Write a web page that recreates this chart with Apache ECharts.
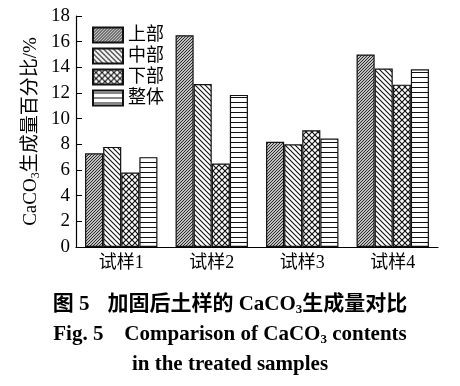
<!DOCTYPE html>
<html><head><meta charset="utf-8">
<script src="https://cdn.jsdelivr.net/npm/echarts@6/dist/echarts.min.js"></script>
<style>html,body{margin:0;padding:0;background:#fff}#c{width:460px;height:386px}</style>
</head><body><div id="c"></div>
<script>
const categories = ['试样1', '试样2', '试样3', '试样4'];
const seriesNames = ['上部', '中部', '下部', '整体'];
const upper = [7.3, 16.5, 8.2, 15.0];
const middle = [7.8, 12.7, 8.0, 13.9];
const lower = [5.8, 6.5, 9.1, 12.65];
const whole = [7.0, 11.85, 8.45, 13.85];
const yTicks = [0, 2, 4, 6, 8, 10, 12, 14, 16, 18];

const FONT = '"Liberation Serif", "Times New Roman", "Noto Sans CJK SC", serif';

function makePattern(type) {
  const c = document.createElement('canvas');
  let s;
  const ctx = c.getContext('2d');
  if (type === 'fwd') {
    s = 3; c.width = s; c.height = s;
    ctx.fillStyle = '#fff'; ctx.fillRect(0, 0, s, s);
    ctx.strokeStyle = '#222'; ctx.lineWidth = 1.1;
    ctx.beginPath();
    ctx.moveTo(-1, s + 1); ctx.lineTo(s + 1, -1);
    ctx.moveTo(-1, 1); ctx.lineTo(1, -1);
    ctx.moveTo(s - 1, s + 1); ctx.lineTo(s + 1, s - 1);
    ctx.stroke();
  } else if (type === 'back') {
    s = 5; c.width = s; c.height = s;
    ctx.fillStyle = '#fff'; ctx.fillRect(0, 0, s, s);
    ctx.strokeStyle = '#111'; ctx.lineWidth = 1.1;
    ctx.beginPath();
    ctx.moveTo(-1, -1); ctx.lineTo(s + 1, s + 1);
    ctx.moveTo(s - 1, -1); ctx.lineTo(s + 1, 1);
    ctx.moveTo(-1, s - 1); ctx.lineTo(1, s + 1);
    ctx.stroke();
  } else if (type === 'cross') {
    s = 6; c.width = s; c.height = s;
    ctx.fillStyle = '#fff'; ctx.fillRect(0, 0, s, s);
    ctx.strokeStyle = '#111'; ctx.lineWidth = 1.2;
    ctx.beginPath();
    ctx.moveTo(-1, -1); ctx.lineTo(s + 1, s + 1);
    ctx.moveTo(-1, s + 1); ctx.lineTo(s + 1, -1);
    ctx.stroke();
  } else {
    s = 5; c.width = s; c.height = s;
    ctx.fillStyle = '#fff'; ctx.fillRect(0, 0, s, s);
    ctx.fillStyle = '#111'; ctx.fillRect(0, 2, s, 1);
  }
  return { image: c, repeat: 'repeat' };
}

const patterns = [makePattern('fwd'), makePattern('back'), makePattern('cross'), makePattern('horiz')];
const dataArrays = [upper, middle, lower, whole];

const chart = echarts.init(document.getElementById('c'), null, { renderer: 'canvas' });
chart.setOption({
  backgroundColor: '#fff',
  animation: false,
  title: [
    {
      text: '{b|图 5}　{b|加固后土样的 CaCO}{s|3}{b|生成量对比}',
      left: 'center', top: 289,
      textStyle: { rich: {
        b: { fontFamily: FONT, fontWeight: 'bold', fontSize: 21, color: '#000' },
        s: { fontFamily: FONT, fontWeight: 'bold', fontSize: 13, color: '#000', padding: [9, 0, 0, 0] }
      } }
    },
    {
      text: '{b|Fig. 5　Comparison of CaCO}{s|3}{b| contents}',
      left: 'center', top: 319,
      textStyle: { rich: {
        b: { fontFamily: FONT, fontWeight: 'bold', fontSize: 21, color: '#000' },
        s: { fontFamily: FONT, fontWeight: 'bold', fontSize: 13, color: '#000', padding: [9, 0, 0, 0] }
      } }
    },
    {
      text: 'in the treated samples',
      left: 'center', top: 349,
      textStyle: { fontFamily: FONT, fontWeight: 'bold', fontSize: 21, color: '#000' }
    }
  ],
  legend: {
    orient: 'vertical', left: 87, top: 21,
    itemWidth: 30, itemHeight: 15, itemGap: 3,
    icon: 'rect',
    textStyle: { fontFamily: FONT, fontSize: 18, color: '#000' },
    data: seriesNames
  },
  grid: { left: 76, right: 22, top: 16, bottom: 139, containLabel: false },
  xAxis: {
    type: 'category', data: categories,
    axisLine: { lineStyle: { color: '#000', width: 1.2 } },
    axisTick: { show: false },
    axisLabel: { fontFamily: FONT, fontSize: 18, color: '#000', margin: 7 }
  },
  yAxis: {
    type: 'value', min: yTicks[0], max: yTicks[yTicks.length - 1], interval: 2,
    name: '{n|CaCO}{s|3}{n|生成量百分比/%}',
    nameLocation: 'middle', nameRotate: 90, nameGap: 34,
    nameMoveOverlap: false,
    nameTextStyle: { rich: {
      n: { fontFamily: FONT, fontSize: 19, color: '#000' },
      s: { fontFamily: FONT, fontSize: 12, color: '#000', padding: [9, 0, 0, 0] }
    } },
    axisLine: { show: true, lineStyle: { color: '#000', width: 1.2 } },
    axisTick: { show: true, inside: true, length: 6, lineStyle: { color: '#000' } },
    splitLine: { show: false },
    axisLabel: { fontFamily: FONT, fontSize: 19, color: '#000', margin: 6 }
  },
  series: seriesNames.map((n, i) => ({
    name: n, type: 'bar', data: dataArrays[i],
    barGap: '0%', barCategoryGap: '20%',
    itemStyle: { color: patterns[i], borderColor: '#111', borderWidth: 1.2 }
  }))
});
</script></body></html>
